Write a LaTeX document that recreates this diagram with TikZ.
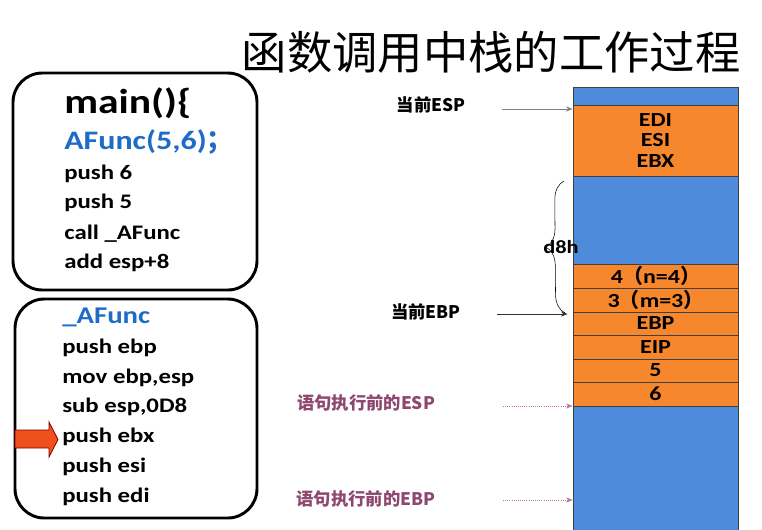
\documentclass[tikz,border=0pt]{standalone}
\usepackage{fontspec}
\setmainfont{Carlito}[FakeStretch=1.2]
\newfontfamily\cjk{Noto Sans CJK SC}
\usepackage{xcolor}
\usetikzlibrary{positioning,fit,calc,arrows.meta,decorations.pathreplacing}
\definecolor{stkblue}{RGB}{78,139,218}
\definecolor{stkorange}{RGB}{247,135,45}
\definecolor{codeblue}{RGB}{31,108,196}
\definecolor{notepurple}{RGB}{142,72,112}
\definecolor{notedot}{RGB}{180,120,155}
\definecolor{arrowred}{RGB}{240,80,30}
\newcommand{\wlp}{{\cjk\bfseries （}}
\newcommand{\wrp}{{\cjk\bfseries ）}}
\tikzset{
    % rounded code boxes
    codebox/.style = {draw, line width=2.2pt, rounded corners=22pt, inner sep=0},
    % assembly lines
    codeline/.style = {anchor=base west, inner sep=0, font=\bfseries\fontsize{15.5}{18}\selectfont},
    % blue source lines
    srcline/.style = {codeline, text=codeblue, font=\bfseries\fontsize{#1}{22}\selectfont},
    % stack cells
    cell/.style = {draw=black!75, line width=0.6pt, inner sep=0},
    bcell/.style = {cell, fill=stkblue},
    ocell/.style = {cell, fill=stkorange},
    % text in a stack cell
    celltext/.style = {inner sep=0, align=center, font=\bfseries\fontsize{15}{15.4}\selectfont},
    % pointer labels
    plabel/.style = {inner sep=0, font=\cjk\bfseries\fontsize{13}{15}\selectfont},
    % pointer arrows
    ptr/.style = {draw=#1, line width=0.6pt, -{Stealth[length=5pt,width=4pt]}},
    % dotted pointer arrows
    dptr/.style = {ptr=notedot, densely dotted},
    % brace
    sbrace/.style = {draw, thin, decorate, decoration={brace, amplitude=14pt}},
    % block arrow
    redarrow/.style = {draw=red!50!black, line width=0.6pt, fill=arrowred}
}
\begin{document}
\begin{tikzpicture}[x=0.75pt, y=-0.75pt]
\useasboundingbox (0,0) rectangle (762,529);

\node [font=\cjk\fontsize{34}{40}\selectfont, inner sep=0] (title) at (491,52) {函数调用中栈的工作过程};

% main() box
\node [codebox, fit={(13,73) (257,290)}] (mainbox) {};
\node [codeline, font=\bfseries\fontsize{26}{30}\selectfont] (main) at (64,113) {main()\{};
\node [srcline=20] (call1) at (64,149) {AFunc(5,6){\cjk\bfseries ；}};
\foreach \i/\y/\txt in {p6/179/{push 6},p5/208/{push 5},call/239/{call \_AFunc},add/268/{add esp+8}}
  \node [codeline] (\i) at (64,\y) {\txt};

% _AFunc box
\node [codebox, fit={(15,299) (257,518)}] (funcbox) {};
\node [srcline=18] (func) at (62,323) {\_AFunc};
\foreach \i/\y/\txt in {pebp/353/{push ebp},mov/383/{mov ebp,esp},sub/412/{sub esp,0D8},pebx/442/{push ebx},pesi/472/{push esi},pedi/502/{push edi}}
  \node [codeline] (\i) at (62,\y) {\txt};
\draw [redarrow] (15,430) -- (49,430) -- (49,422) -- (58,439.5) -- (49,457) -- (49,448) -- (15,448) -- cycle;

% the stack
\node [bcell, fit={(573,87) (738,105)}] (top) {};
\node [ocell, fit={(573,105) (738,176)}] (regs) {};
\node [bcell, fit={(573,176) (738,264)}] (locals) {};
\node [ocell, fit={(573,264) (738,288)}] (argn) {};
\node [ocell, fit={(573,288) (738,312)}] (argm) {};
\node [ocell, fit={(573,312) (738,335)}] (oldebp) {};
\node [ocell, fit={(573,335) (738,359)}] (eip) {};
\node [ocell, fit={(573,359) (738,382)}] (five) {};
\node [ocell, fit={(573,382) (738,406)}] (six) {};
\node [bcell, fit={(573,406) (738,532)}] (caller) {};
\foreach \c/\txt in {regs/{EDI\\ESI\\EBX},argn/{4\wlp n=4\wrp},argm/{3\wlp m=3\wrp},oldebp/EBP,eip/EIP,five/5,six/6}
  \node [celltext] at (\c.center) {\txt};

% pointers
\node [plabel] (esp) at (431,105) {当前ESP};
\node [plabel] (ebp) at (426,312) {当前EBP};
\node [plabel, text=notepurple] (oesp) at (366,403) {语句执行前的ESP};
\node [plabel, text=notepurple] (oebp) at (366,499) {语句执行前的EBP};
\coordinate (espfrom) at (502,109);
\coordinate (ebpfrom) at (497,314);
\coordinate (oespfrom) at (503,406);
\coordinate (oebpfrom) at (503,500);
\draw [ptr=gray] (espfrom) -- (espfrom -| regs.west);
\draw [ptr=black!80] (ebpfrom) -- ($(ebpfrom -| oldebp.west)+(-5,0)$);
\draw [dptr] (oespfrom) -- (oespfrom -| six.west);
\draw [dptr] (oebpfrom) -- (oebpfrom -| caller.west);

\draw [sbrace] (565,313) -- (564,181);
\node [font=\bfseries\fontsize{14}{15}\selectfont, inner sep=0] (size) at (561,247) {d8h};

\end{tikzpicture}
\end{document}
